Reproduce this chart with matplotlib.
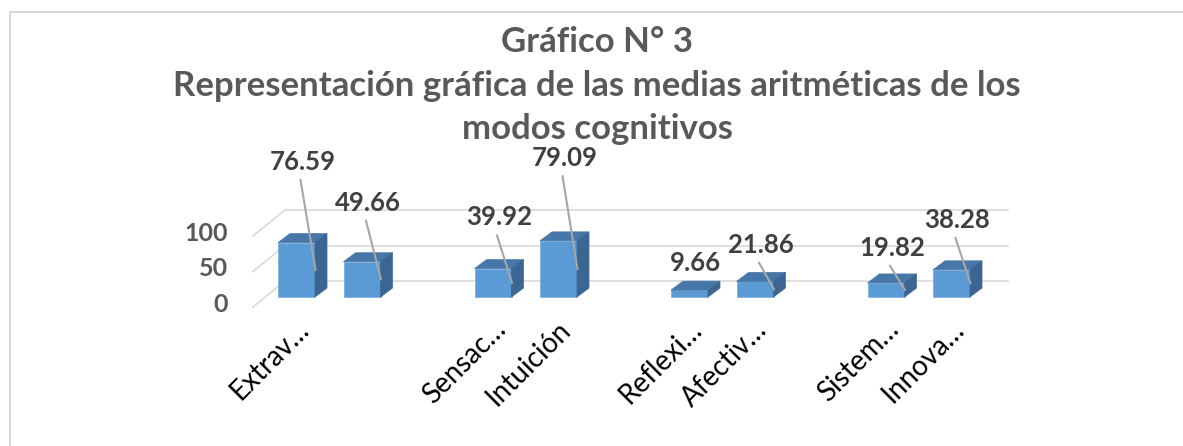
import matplotlib.pyplot as plt
from matplotlib.patches import Polygon
from matplotlib.lines import Line2D

plt.rcParams['font.family'] = ['Lato', 'DejaVu Sans']

# data
slots = [0, 1, 3, 4, 6, 7, 9, 10]
values = [76.59, 49.66, 39.92, 79.09, 9.66, 21.86, 19.82, 38.28]
tick_labels = ["Extrav…", "", "Sensac…", "Intuición", "Reflexi…", "Afectiv…", "Sistem…", "Innova…"]
yticks = [0, 50, 100]
title_lines = ["Gráfico N° 3",
               "Representación gráfica de las medias aritméticas de los",
               "modos cognitivos"]

W, H = 1183, 446
fig = plt.figure(figsize=(W / 100, H / 100), dpi=100)
ax = fig.add_axes([0, 0, 1, 1])
ax.axis('off')

# pixel scale of the fake 3d chart
PX = 65.5      # px per slot
PY = 0.71      # px per unit
X0, Y0 = 296.5, 297
ax.set_xlim(-X0 / PX, (W - X0) / PX)
ax.set_ylim(-(H - Y0) / PY, Y0 / PY)


def dx(p):
    return p / PX


def dy(p):
    return p / PY


bar_w = dx(37)
bdx, bdy = dx(12), dy(9)            # bar depth
fdx, fdy = dx(-12.3), dy(-10)       # floor front
wdx, wdy = dx(19.7), dy(16)         # back wall
left = -0.664 - fdx
right = dx(1008 - X0) - wdx
grid_c = '#D9D9D9'

for v in yticks:
    ax.plot([left + fdx, left + wdx], [v + fdy, v + wdy], color=grid_c, lw=1.2, zorder=1)
    ax.plot([left + wdx, right + wdx], [v + wdy, v + wdy], color=grid_c, lw=1.2, zorder=1)
    ax.text(dx(228 - X0), v + fdy - dy(-3), str(v), ha='right', va='center',
            fontsize=18, fontweight='bold', color='#595959')

front_c, top_c, side_c = '#5B9BD5', '#4677A8', '#3B6592'
ax.bar(slots, values, width=bar_w, color=front_c, zorder=3,
       edgecolor='#7FB1E0', linewidth=0.6)
for s, v in zip(slots, values):
    l, r = s - bar_w / 2, s + bar_w / 2
    ax.add_patch(Polygon([(l, v), (r, v), (r + bdx, v + bdy), (l + bdx, v + bdy)],
                         closed=True, facecolor=top_c, edgecolor=top_c, lw=0.5, zorder=3))
    ax.add_patch(Polygon([(r, 0), (r + bdx, bdy), (r + bdx, v + bdy), (r, v)],
                         closed=True, facecolor=side_c, edgecolor=side_c, lw=0.5, zorder=3))
    # data label with leader line
    ly = 2.13 * v + 27
    lx = s + bdx / 2
    ax.text(lx, ly, f"{v:.2f}", ha='center', va='center', fontsize=18.5,
            fontweight='bold', color='#404040', zorder=5)
    if v > 15:
        ax.plot([lx - dx(2), s + dx(19)], [ly - dy(18), v / 2], color='#A6A6A6',
                lw=1.5, zorder=4)

for s, lab in zip(slots, tick_labels):
    ax.text(s + dx(14), dy(297 - 331), lab, rotation=45, rotation_mode='anchor',
            ha='right', va='baseline', fontsize=20, color='#000000')

for i, t in enumerate(title_lines):
    fig.text(597 / W, 1 - [42, 86, 129][i] / H, t, ha='center', va='center',
             fontsize=25, fontweight='bold', color='#595959')

# chart border (left and top visible)
fig.add_artist(Line2D([10 / W, 10 / W], [0, 1 - 12 / H], color=grid_c, lw=1.5))
fig.add_artist(Line2D([10 / W, 1], [1 - 12 / H, 1 - 12 / H], color=grid_c, lw=1.5))

fig.savefig('out.png', dpi=100)
